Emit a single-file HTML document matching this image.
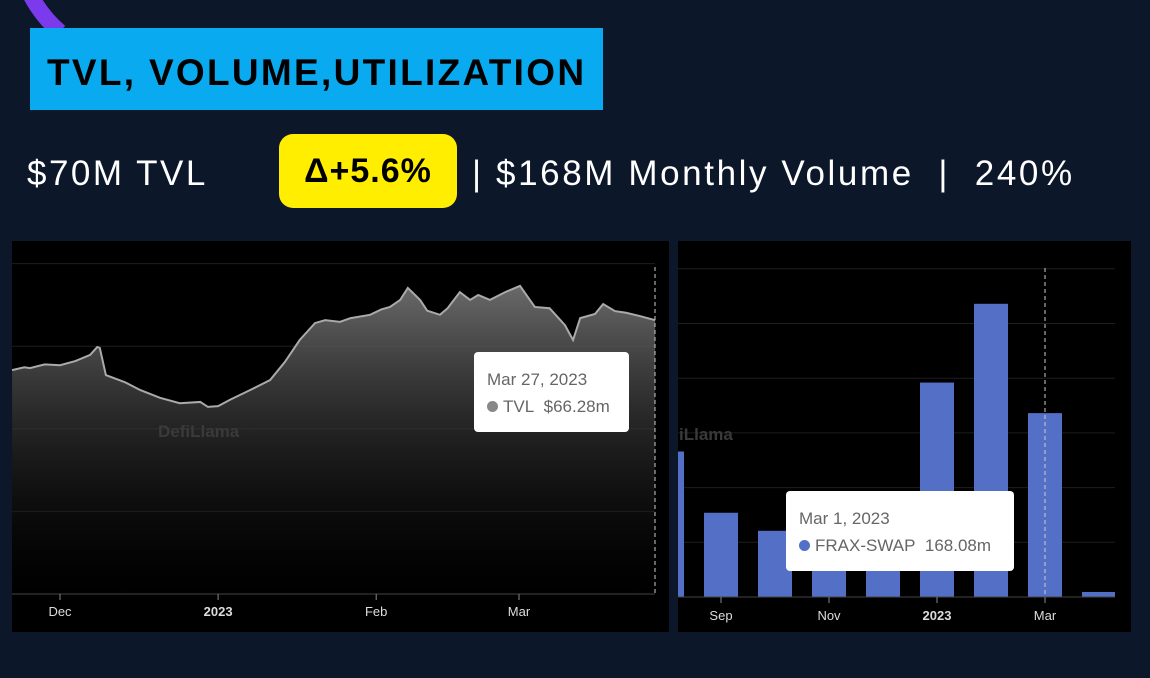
<!DOCTYPE html>
<html><head><meta charset="utf-8">
<style>
body{margin:0;width:1150px;height:678px;background:#0c1829;overflow:hidden;position:relative;font-family:"Liberation Sans",sans-serif}
.abs{position:absolute}
</style></head>
<body>
<svg class="abs" style="left:0;top:0" width="120" height="60"><path d="M28 -10 Q40 15 60 32" stroke="#7c3aed" stroke-width="16" fill="none"/></svg>
<div class="abs" style="left:30px;top:28px;width:573px;height:82px;background:#0aaaf0;"></div>
<div class="abs" style="left:47px;top:52px;font-size:37px;font-weight:bold;color:#000;letter-spacing:2.3px">TVL, VOLUME,UTILIZATION</div>
<div class="abs" style="left:27px;top:154px;font-size:35px;color:#fff;letter-spacing:2.5px">$70M TVL</div>
<div class="abs" style="left:279px;top:134px;width:178px;height:74px;background:#ffee00;border-radius:14px;color:#000;font-size:34px;font-weight:bold;line-height:74px;text-align:center;letter-spacing:1px">Δ+5.6%</div>
<div class="abs" style="left:472px;top:154px;font-size:35px;color:#fff;white-space:pre;letter-spacing:2.6px">| $168M Monthly Volume  |  240%</div>

<svg class="abs" style="left:0;top:0" width="1150" height="678" id="charts">
<defs><linearGradient id="ag" x1="0" y1="0" x2="0" y2="1"><stop offset="0" stop-color="#6a6a6a"/><stop offset="1" stop-color="#000" stop-opacity="0.2"/></linearGradient></defs>
<rect x="12" y="241" width="657" height="391" fill="#000"/>
<rect x="678" y="241" width="453" height="391" fill="#000"/>
<g id="tvl"></g><g id="vol"></g>
</svg>

<div class="abs" style="left:158px;top:422px;font-size:17px;font-weight:bold;color:#3a3a3a">DefiLlama</div>
<div class="abs" style="left:474px;top:352px;width:155px;height:80px;background:#fff;border-radius:4px;color:#666;font-size:17px">
<div style="position:absolute;left:13px;top:18px">Mar 27, 2023</div>
<div style="position:absolute;left:13px;top:45px"><span style="display:inline-block;width:11px;height:11px;border-radius:50%;background:#888;margin-right:5px"></span>TVL&nbsp; $66.28m</div></div>
<div class="abs" style="left:679px;top:425px;font-size:17px;font-weight:bold;color:#3a3a3a">iLlama</div>
<div class="abs" style="left:786px;top:491px;width:228px;height:80px;background:#fff;border-radius:4px;color:#666;font-size:17px">
<div style="position:absolute;left:13px;top:18px">Mar 1, 2023</div>
<div style="position:absolute;left:13px;top:45px"><span style="display:inline-block;width:11px;height:11px;border-radius:50%;background:#5470c6;margin-right:5px"></span>FRAX-SWAP&nbsp; 168.08m</div></div>

<script>
// TVL data: day offset from Dec 1 2022, value in $m
const tvlDays=[-9.4,-7,-5.9,-3,0,3,5.9,7.3,7.8,9,12.7,15.7,19.6,23.5,27.5,29,31,33.3,37.3,41.2,44.1,47,50,52,54.9,57,60.8,63,64.7,66.7,68.2,70.6,72,74.5,76,78.4,80.4,82,84.3,87.3,90.2,93.1,96,99,100.6,102,104.9,106.5,108.8,111,113.7,116.7];
const tvlVals=[54.2,54.9,54.7,55.6,55.4,56.4,57.9,59.8,59.6,53,51.3,49.4,47.5,46.2,46.5,45.3,45.5,47,49.4,51.8,56.2,61.5,65.6,66.3,65.9,66.8,67.6,68.9,69.5,71.2,74.1,71.2,68.6,67.6,69.2,73.1,71.2,72.4,71.2,73.1,74.6,69.5,69.2,65.1,61.5,66.8,67.8,70.2,68.5,68.1,67.3,66.3];
const tvlTicks=["Dec","2023","Feb","Mar"];
const tvlTickDays=[0,31,62,90];
// Volume data (monthly, $m)
const volMonths=["Aug","Sep","Oct","Nov","Dec","Jan","Feb","Mar","Apr"];
const volVals=[133,77,60.5,38,42,196,268,168.08,4.6];
const volTicks=["Sep","Nov","2023","Mar"];
const volTickIdx=[1,3,5,7];

const NS="http://www.w3.org/2000/svg";
function mk(parent,tag,attrs){const e=document.createElementNS(NS,tag);for(const k in attrs)e.setAttribute(k,attrs[k]);parent.appendChild(e);return e;}

// TVL chart
const g=document.getElementById('tvl');
const xT=d=>60+d*5.1, yT=v=>594-v*4.13;
[20,40,60,80].forEach(v=>{const l=mk(g,'line',{x1:12,x2:655,y1:yT(v),y2:yT(v),stroke:'#1e1e1e'});

});
let d='M'+xT(tvlDays[0])+' '+yT(tvlVals[0]);
for(let i=1;i<tvlDays.length;i++)d+=' L'+xT(tvlDays[i])+' '+yT(tvlVals[i]);
const area=mk(g,'path',{d:d+' L'+xT(tvlDays[tvlDays.length-1])+' 594 L'+xT(tvlDays[0])+' 594 Z',fill:'url(#ag)'});


const line=mk(g,'path',{d:d,fill:'none',stroke:'#aaa','stroke-width':2});


const ax=mk(g,'line',{x1:12,x2:655,y1:594,y2:594,stroke:'#444'});


const dl=mk(g,'line',{x1:655,x2:655,y1:267,y2:594,stroke:'#ccc','stroke-dasharray':'4,3'});


tvlTicks.forEach((t,i)=>{const x=xT(tvlTickDays[i]);
const tk=mk(g,'line',{x1:x,x2:x,y1:594,y2:600,stroke:'#888'});


const tx=mk(g,'text',{x:x,y:616,'text-anchor':'middle',fill:'#ddd','font-size':13,'font-weight':t==='2023'?'bold':'normal'});tx.textContent=t;

});

// Volume chart
const v=document.getElementById('vol');
const xV=i=>667+i*54, yV=val=>597-val*1.094;
[50,100,150,200,250,300].forEach(val=>{const l=mk(v,'line',{x1:678,x2:1115,y1:yV(val),y2:yV(val),stroke:'#1e1e1e'});

});
const cp=mk(v,'clipPath',{id:'vc'});mk(cp,'rect',{x:678,y:241,width:437,height:391});
const bg=mk(v,'g',{'clip-path':'url(#vc)'});
volVals.forEach((val,i)=>{const r=mk(bg,'rect',{x:xV(i)-17,y:yV(val),width:34,height:597-yV(val),fill:'#5470c6'});

});
const vax=mk(v,'line',{x1:678,x2:1115,y1:597,y2:597,stroke:'#444'});


const vdl=mk(v,'line',{x1:xV(7),x2:xV(7),y1:268,y2:597,stroke:'#ccc','stroke-dasharray':'4,3'});


volTicks.forEach((t,k)=>{const x=xV(volTickIdx[k]);
const tk=mk(v,'line',{x1:x,x2:x,y1:597,y2:603,stroke:'#888'});


const tx=mk(v,'text',{x:x,y:620,'text-anchor':'middle',fill:'#ddd','font-size':13,'font-weight':t==='2023'?'bold':'normal'});tx.textContent=t;

});
</script>
</body></html>
